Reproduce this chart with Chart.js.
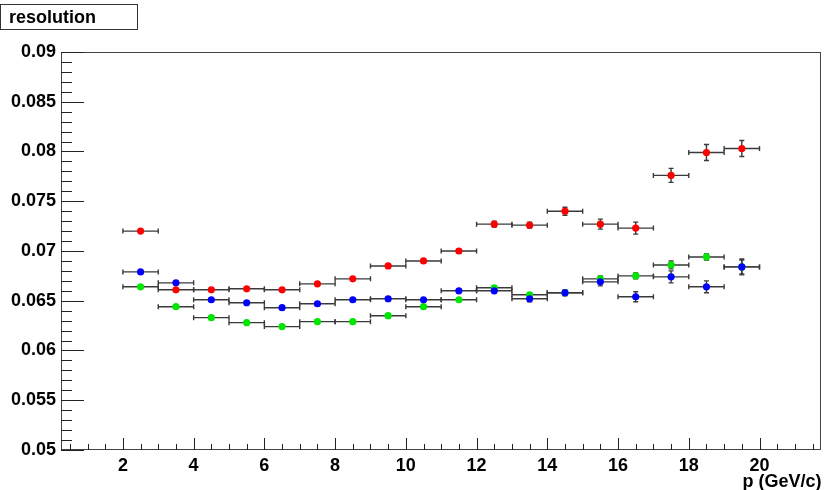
<!DOCTYPE html>
<html>
<head>
<meta charset="utf-8">
<script src="https://cdn.jsdelivr.net/npm/chart.js@4.4.1/dist/chart.umd.min.js"></script>
<style>
  html, body { margin: 0; padding: 0; background: #ffffff; }
  #wrap { position: relative; width: 825px; height: 490px; }
</style>
</head>
<body>
<div id="wrap"><canvas id="c" width="825" height="490"></canvas></div>
<script>
// Momentum bin centres (GeV/c), each bin is 1 GeV/c wide
const pBins = [2.5, 3.5, 4.5, 5.5, 6.5, 7.5, 8.5, 9.5, 10.5, 11.5, 12.5, 13.5, 14.5, 15.5, 16.5, 17.5, 18.5, 19.5];
const binHalfWidth = 0.5;

// Resolution per bin and its statistical error, one pair per series
const redRes   = [0.0720, 0.0661, 0.0661, 0.0662, 0.0661, 0.0667, 0.0672, 0.0685, 0.0690, 0.0700, 0.0727, 0.0726, 0.0740, 0.0727, 0.0723, 0.0776, 0.0799, 0.0803];
const redErr   = [0.0001, 0.0001, 0.0001, 0.0001, 0.0001, 0.0001, 0.0001, 0.00015, 0.0002, 0.0002, 0.0003, 0.0003, 0.0004, 0.0005, 0.0006, 0.0007, 0.0008, 0.0008];
const blueRes  = [0.0679, 0.0668, 0.0651, 0.0648, 0.0643, 0.0647, 0.0651, 0.0652, 0.0651, 0.0660, 0.0660, 0.0652, 0.0658, 0.0669, 0.0654, 0.0674, 0.0664, 0.0684];
const blueErr  = [0.0001, 0.0001, 0.0001, 0.0001, 0.0001, 0.0001, 0.0001, 0.0002, 0.0002, 0.0002, 0.0002, 0.0003, 0.0003, 0.0004, 0.0005, 0.0006, 0.0006, 0.0008];
const greenRes = [0.0664, 0.0644, 0.0633, 0.0628, 0.0624, 0.0629, 0.0629, 0.0635, 0.0644, 0.0651, 0.0663, 0.0656, 0.0658, 0.0672, 0.0675, 0.0686, 0.0694, 0.0684];
const greenErr = [0.0001, 0.0001, 0.0001, 0.0001, 0.0001, 0.0001, 0.0001, 0.0001, 0.0001, 0.0001, 0.0002, 0.0002, 0.0002, 0.0003, 0.0003, 0.0004, 0.0003, 0.0007];

// Axis ticks and labels
const xTickValues = [2, 4, 6, 8, 10, 12, 14, 16, 18, 20];
const yTickValues = [0.05, 0.055, 0.06, 0.065, 0.07, 0.075, 0.08, 0.085, 0.09];
const yTickLabels = ['0.05', '0.055', '0.06', '0.065', '0.07', '0.075', '0.08', '0.085', '0.09'];
const xRange = [0.25, 21.75];
const yRange = [0.05, 0.09];

const FONT = '"Liberation Sans", Arial, Helvetica, sans-serif';

function toPoints(vals, errs) {
  return pBins.map((p, i) => ({ x: p, y: vals[i], ex: binHalfWidth, ey: errs[i] }));
}

// Error bars (horizontal bin width + vertical error) with small end caps
const errorBars = {
  id: 'errorBars',
  beforeDatasetsDraw(chart) {
    const ctx = chart.ctx;
    const xs = chart.scales.x, ys = chart.scales.y;
    ctx.save();
    ctx.strokeStyle = '#3a3a3a';
    ctx.lineWidth = 1.4;
    for (let d = chart.data.datasets.length - 1; d >= 0; d--) {
      chart.data.datasets[d].data.forEach(pt => {
        const x0 = xs.getPixelForValue(pt.x - pt.ex);
        const x1 = xs.getPixelForValue(pt.x + pt.ex);
        const xc = xs.getPixelForValue(pt.x);
        const yc = ys.getPixelForValue(pt.y);
        const y0 = ys.getPixelForValue(pt.y - pt.ey);
        const y1 = ys.getPixelForValue(pt.y + pt.ey);
        ctx.beginPath();
        ctx.moveTo(x0, yc); ctx.lineTo(x1, yc);
        ctx.moveTo(x0, yc - 2.5); ctx.lineTo(x0, yc + 2.5);
        ctx.moveTo(x1, yc - 2.5); ctx.lineTo(x1, yc + 2.5);
        if (Math.abs(y1 - y0) > 1) {
          ctx.moveTo(xc, y0); ctx.lineTo(xc, y1);
          ctx.moveTo(xc - 2.5, y0); ctx.lineTo(xc + 2.5, y0);
          ctx.moveTo(xc - 2.5, y1); ctx.lineTo(xc + 2.5, y1);
        }
        ctx.stroke();
      });
    }
    ctx.restore();
  }
};

// Frame, inward ticks and the "resolution" title box
const frameAndTicks = {
  id: 'frameAndTicks',
  afterDraw(chart) {
    const ctx = chart.ctx;
    const a = chart.chartArea;
    const xs = chart.scales.x, ys = chart.scales.y;
    ctx.save();
    ctx.strokeStyle = '#444';
    ctx.lineWidth = 1;
    ctx.strokeRect(Math.round(a.left) + 0.5, Math.round(a.top) + 0.5,
                   Math.round(a.right - a.left) - 1, Math.round(a.bottom - a.top) - 1);

    ctx.strokeStyle = '#222';
    ctx.beginPath();
    // y ticks: minor every 0.001, major every 0.005
    for (let k = 0; k <= 40; k++) {
      const v = yRange[0] + k * 0.001;
      const y = Math.round(ys.getPixelForValue(v)) + 0.5;
      const len = (k % 5 === 0) ? 23 : 11;
      ctx.moveTo(a.left, y); ctx.lineTo(a.left + len, y);
    }
    // x ticks: minor every 0.5, major every 2
    for (let k = 1; k <= 43; k++) {
      const v = k * 0.5;
      if (v <= xRange[0] || v >= xRange[1]) continue;
      const x = Math.round(xs.getPixelForValue(v)) + 0.5;
      const len = (v % 2 === 0) ? 12 : 6;
      ctx.moveTo(x, a.bottom); ctx.lineTo(x, a.bottom - len);
    }
    ctx.stroke();

    // title box
    ctx.fillStyle = '#ffffff';
    ctx.fillRect(0, 4, 137, 25);
    ctx.strokeStyle = '#333';
    ctx.lineWidth = 1;
    ctx.strokeRect(0.5, 4.5, 137, 25);
    ctx.fillStyle = '#000';
    ctx.font = 'bold 18px ' + FONT;
    ctx.textBaseline = 'alphabetic';
    ctx.textAlign = 'left';
    ctx.fillText('resolution', 9, 23);
    ctx.restore();
  }
};

const ds = (label, color, vals, errs) => ({
  label,
  data: toPoints(vals, errs),
  backgroundColor: color,
  borderColor: color,
  pointRadius: 3.6,
  pointHoverRadius: 3.6,
  borderWidth: 0,
  showLine: false
});

new Chart(document.getElementById('c'), {
  type: 'scatter',
  data: {
    datasets: [
      ds('red', '#ff0000', redRes, redErr),
      ds('blue', '#0000ff', blueRes, blueErr),
      ds('green', '#00e600', greenRes, greenErr)
    ]
  },
  options: {
    responsive: false,
    animation: false,
    events: [],
    layout: { padding: { top: 52, right: 2, left: 0, bottom: 0 } },
    plugins: { legend: { display: false }, tooltip: { enabled: false }, title: { display: false } },
    scales: {
      x: {
        type: 'linear',
        min: xRange[0], max: xRange[1],
        afterBuildTicks: s => { s.ticks = xTickValues.map(v => ({ value: v })); },
        afterFit: s => { s.height = 40; },
        grid: { display: false, drawTicks: false },
        border: { display: false },
        ticks: { color: '#000', font: { family: FONT, size: 18, weight: 'bold' }, padding: 5, maxRotation: 0, autoSkip: false,
                 callback: v => String(v) },
        title: { display: true, text: 'p (GeV/c)', align: 'end', color: '#000',
                 font: { family: FONT, size: 18, weight: 'bold' }, padding: { top: 0, bottom: -3 } }
      },
      y: {
        type: 'linear',
        min: yRange[0], max: yRange[1],
        afterBuildTicks: s => { s.ticks = yTickValues.map(v => ({ value: v })); },
        afterFit: s => { s.width = 61; },
        grid: { display: false, drawTicks: false },
        border: { display: false },
        ticks: { color: '#000', font: { family: FONT, size: 18, weight: 'bold' }, padding: 5, autoSkip: false,
                 callback: (v, i) => yTickLabels[i] }
      }
    }
  },
  plugins: [errorBars, frameAndTicks]
});
</script>
</body>
</html>
